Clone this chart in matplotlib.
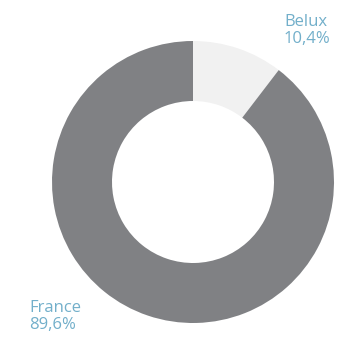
import matplotlib.pyplot as plt

regions = ['Belux', 'France']
shares = [10.4, 89.6]
share_labels = ['10,4%', '89,6%']
colors = ['#f1f1f1', '#808184']
text_color = '#72afca'

fig = plt.figure(figsize=(3.45, 3.45), dpi=100)
ax = fig.add_axes([0, 0, 1, 1])

# donut, Belux first, clockwise from 12 o'clock
ax.pie(shares, colors=colors, startangle=90, counterclock=False,
       center=(193, 163), radius=141,
       wedgeprops=dict(width=60, linewidth=0))
ax.set_xlim(0, 345)
ax.set_ylim(0, 345)
ax.set_aspect('equal')
ax.axis('off')

label_style = dict(color=text_color, fontsize=12, family='Open Sans',
                   va='top', ha='left', linespacing=1.05)
ax.text(284, 331, regions[0] + '\n' + share_labels[0], **label_style)
ax.text(29, 45, regions[1] + '\n' + share_labels[1], **label_style)

fig.savefig('out.png', dpi=100)
